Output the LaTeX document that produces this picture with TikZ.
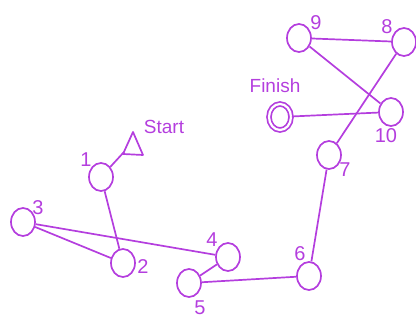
\documentclass[tikz,border=0pt]{standalone}
\usepackage{fontspec}
\setmainfont{Liberation Sans}
\usepackage{xcolor}
\usepackage{tikz}
\usetikzlibrary{positioning, arrows.meta, shapes.geometric}
\definecolor{pathpurple}{RGB}{180,62,222}

\begin{document}
\begin{tikzpicture}[x=1pt, y=-1pt, line width=1.7pt, draw=pathpurple,
    city/.style={draw=pathpurple, ellipse, minimum width=24pt, minimum height=28pt, inner sep=0pt},
    lbl/.style={text=pathpurple, font=\fontsize{20}{22}\selectfont, inner sep=0pt}]
    \useasboundingbox (0,0) rectangle (416,320);
    \foreach \n/\x/\y in {1/101/177,2/123/263,3/23/222,4/228/257,5/189/283,
                          6/309/276,7/329/155,8/404/42,9/299/38,10/391/112} {
        \node[city] (c\n) at (\x,\y) {};
    }
    \node[city, double, double distance=2.2pt, minimum width=22pt, minimum height=26pt] (finish) at (280,117) {};
    \draw[line join=round] (123,154) -- (133,132) -- (143,155) -- cycle;
    \coordinate (start) at (124,152);
    % labels
    \foreach \n/\x/\y in {1/86/160,2/143/267,3/38/208,4/212/240,5/200/308,
                          6/300/254,7/345/170,8/387/27,9/316/23,10/386/136} {
        \node[lbl] (l\n) at (\x,\y) {\n};
    }
    \node[lbl, font=\fontsize{19}{21}\selectfont] (lstart) at (164,127) {Start};
    \node[lbl, font=\fontsize{19}{21}\selectfont] (lfinish) at (275,86) {Finish};
    % route
    \draw (start) -- (c1);
    \foreach \a/\b in {1/2,2/3,3/4,4/5,5/6,6/7,7/8,8/9,9/10} {
        \draw (c\a) -- (c\b);
    }
    \draw (c10) -- (finish);
\end{tikzpicture}
\end{document}
